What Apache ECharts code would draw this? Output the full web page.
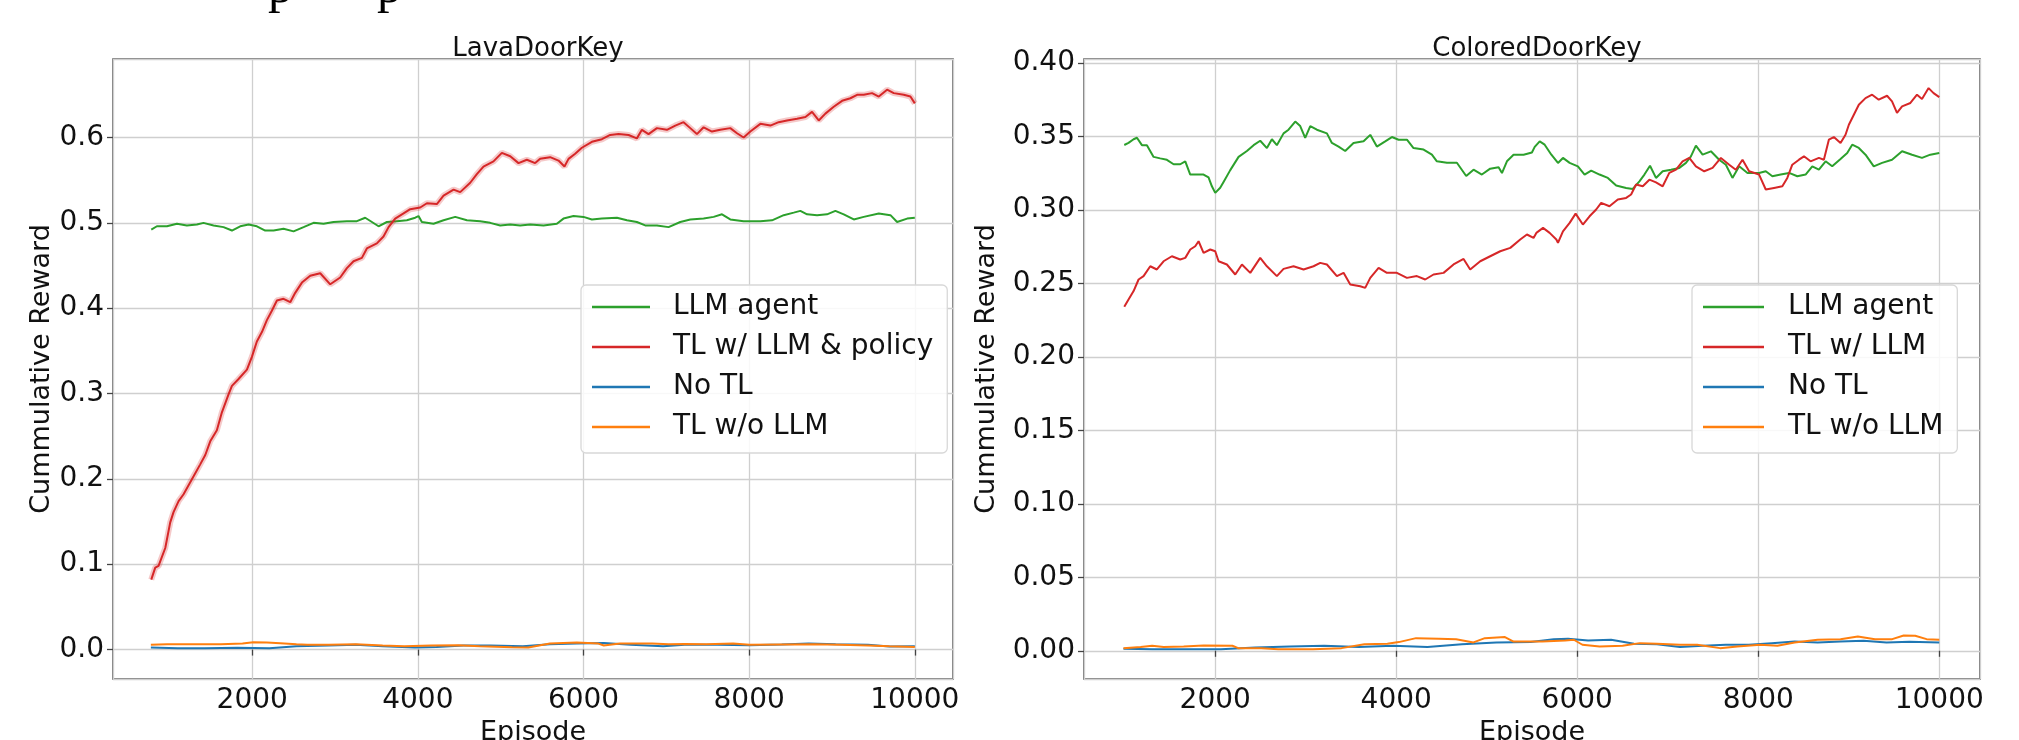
<!DOCTYPE html>
<html>
<head>
<meta charset="utf-8">
<script src="https://cdn.jsdelivr.net/npm/echarts@6/dist/echarts.min.js"></script>
<style>
  html, body { margin: 0; padding: 0; background: #fff; }
  #chart { width: 2019px; height: 740px; }
</style>
</head>
<body>
<div id="chart"></div>
<script>
// ---------- data ----------
const seriesNamesLava = ['LLM agent', 'TL w/ LLM & policy', 'No TL', 'TL w/o LLM'];
const seriesNamesColored = ['LLM agent', 'TL w/ LLM', 'No TL', 'TL w/o LLM'];
const titles = ['LavaDoorKey', 'ColoredDoorKey'];

// LavaDoorKey  [episode, reward]
const lavaLLM = [[781,0.492],[849,0.496],[970,0.496],[1091,0.499],[1211,0.497],[1332,0.498],[1412,0.500],[1533,0.497],[1654,0.495],[1755,0.491],[1855,0.496],[1956,0.498],[2056,0.496],[2157,0.491],[2258,0.491],[2378,0.493],[2499,0.490],[2620,0.495],[2740,0.500],[2861,0.499],[2982,0.501],[3143,0.502],[3264,0.502],[3364,0.506],[3445,0.501],[3525,0.496],[3626,0.501],[3746,0.502],[3867,0.503],[3968,0.506],[4008,0.508],[4048,0.501],[4189,0.499],[4310,0.503],[4451,0.507],[4592,0.503],[4752,0.502],[4873,0.500],[4994,0.497],[5115,0.498],[5235,0.497],[5356,0.498],[5517,0.497],[5678,0.499],[5758,0.505],[5879,0.508],[6000,0.507],[6101,0.504],[6222,0.505],[6403,0.506],[6524,0.503],[6644,0.501],[6745,0.497],[6886,0.497],[7027,0.495],[7168,0.501],[7289,0.504],[7450,0.505],[7571,0.507],[7672,0.510],[7772,0.504],[7933,0.502],[8135,0.502],[8276,0.503],[8417,0.509],[8538,0.512],[8618,0.514],[8699,0.510],[8820,0.509],[8940,0.510],[9041,0.514],[9142,0.510],[9263,0.504],[9383,0.507],[9565,0.511],[9706,0.509],[9786,0.501],[9907,0.505],[10000,0.506]];
const lavaTL = [[781,0.082],[829,0.096],[869,0.098],[950,0.119],[1010,0.149],[1050,0.161],[1111,0.174],[1171,0.182],[1292,0.203],[1372,0.217],[1433,0.228],[1493,0.244],[1573,0.257],[1634,0.278],[1714,0.299],[1755,0.309],[1835,0.317],[1936,0.328],[1996,0.343],[2056,0.361],[2117,0.372],[2177,0.386],[2237,0.397],[2298,0.409],[2378,0.411],[2459,0.407],[2519,0.418],[2600,0.430],[2700,0.438],[2821,0.441],[2942,0.428],[3062,0.436],[3143,0.447],[3223,0.455],[3324,0.459],[3384,0.470],[3505,0.476],[3585,0.484],[3646,0.495],[3726,0.505],[3827,0.511],[3908,0.516],[4028,0.518],[4109,0.523],[4229,0.522],[4310,0.532],[4431,0.539],[4511,0.536],[4632,0.547],[4712,0.557],[4792,0.566],[4913,0.572],[5014,0.582],[5115,0.578],[5215,0.570],[5316,0.574],[5416,0.570],[5476,0.575],[5597,0.577],[5698,0.573],[5770,0.566],[5819,0.575],[5899,0.581],[5980,0.588],[6101,0.595],[6222,0.598],[6322,0.603],[6423,0.604],[6544,0.603],[6644,0.599],[6705,0.609],[6785,0.604],[6886,0.611],[7007,0.609],[7108,0.614],[7208,0.618],[7289,0.611],[7369,0.604],[7450,0.612],[7551,0.607],[7651,0.609],[7772,0.611],[7853,0.605],[7933,0.600],[8014,0.607],[8135,0.616],[8256,0.614],[8356,0.618],[8457,0.620],[8578,0.622],[8679,0.624],[8759,0.630],[8840,0.620],[8920,0.628],[9021,0.636],[9122,0.643],[9222,0.646],[9303,0.650],[9383,0.650],[9484,0.652],[9565,0.648],[9665,0.656],[9746,0.652],[9867,0.650],[9947,0.648],[10000,0.640]];
const lavaNoTL = [[776,0.0023],[1102,0.0016],[1427,0.0016],[1818,0.0020],[2208,0.0016],[2534,0.0039],[2924,0.0047],[3250,0.0055],[3575,0.0039],[3966,0.0023],[4226,0.0031],[4552,0.0047],[4877,0.0047],[5268,0.0039],[5594,0.0062],[5919,0.0070],[6245,0.0078],[6570,0.0055],[6961,0.0039],[7221,0.0055],[7612,0.0055],[8002,0.0050],[8393,0.0059],[8718,0.0070],[9044,0.0062],[9434,0.0055],[9695,0.0035],[10000,0.0039]];
const lavaTLnoLLM = [[776,0.0055],[971,0.0062],[1297,0.0062],[1622,0.0062],[1883,0.0070],[2013,0.0086],[2176,0.0082],[2339,0.0074],[2534,0.0062],[2664,0.0055],[2924,0.0055],[3250,0.0062],[3575,0.0047],[3836,0.0039],[4161,0.0047],[4487,0.0050],[4747,0.0039],[5138,0.0027],[5333,0.0023],[5594,0.0070],[5919,0.0082],[6180,0.0070],[6245,0.0047],[6440,0.0070],[6830,0.0070],[7026,0.0062],[7221,0.0066],[7481,0.0062],[7807,0.0070],[8002,0.0055],[8393,0.0059],[8783,0.0062],[9109,0.0055],[9434,0.0047],[9695,0.0039],[10000,0.0031]];

// ColoredDoorKey  [episode, reward]
const colLLM = [[995,0.3441],[1042,0.3455],[1098,0.348],[1135,0.349],[1190,0.344],[1245,0.344],[1319,0.336],[1392,0.335],[1466,0.334],[1540,0.331],[1613,0.331],[1669,0.333],[1724,0.324],[1816,0.324],[1871,0.324],[1926,0.322],[1963,0.316],[2000,0.3115],[2055,0.315],[2092,0.319],[2166,0.327],[2258,0.336],[2350,0.340],[2424,0.344],[2497,0.347],[2571,0.342],[2626,0.348],[2681,0.344],[2755,0.352],[2810,0.3545],[2884,0.360],[2939,0.357],[2994,0.349],[3050,0.357],[3123,0.3545],[3234,0.352],[3289,0.3455],[3363,0.343],[3436,0.340],[3528,0.3455],[3639,0.3466],[3713,0.351],[3786,0.343],[3878,0.3466],[3952,0.3495],[4026,0.3477],[4118,0.3477],[4191,0.342],[4302,0.341],[4394,0.3375],[4449,0.333],[4560,0.332],[4670,0.332],[4773,0.323],[4854,0.3273],[4946,0.324],[5038,0.328],[5131,0.329],[5168,0.325],[5223,0.333],[5296,0.3375],[5407,0.3375],[5499,0.339],[5530,0.3428],[5585,0.3466],[5640,0.3443],[5714,0.3375],[5787,0.3319],[5842,0.3353],[5916,0.3319],[6007,0.3296],[6081,0.324],[6154,0.3267],[6246,0.324],[6338,0.3217],[6430,0.3165],[6540,0.3149],[6613,0.3142],[6687,0.3194],[6742,0.324],[6804,0.330],[6870,0.3217],[6944,0.3262],[7036,0.3273],[7128,0.3285],[7201,0.3319],[7256,0.3364],[7311,0.3437],[7385,0.3375],[7477,0.3398],[7568,0.3341],[7642,0.3307],[7715,0.3217],[7789,0.3296],[7881,0.3251],[8009,0.3251],[8083,0.3262],[8156,0.3228],[8248,0.324],[8340,0.3251],[8432,0.3228],[8523,0.324],[8597,0.3296],[8670,0.3273],[8744,0.333],[8817,0.3296],[8909,0.3346],[8983,0.3387],[9038,0.3443],[9111,0.3421],[9185,0.3375],[9276,0.3296],[9368,0.3319],[9478,0.3341],[9589,0.3398],[9699,0.3375],[9809,0.3353],[9901,0.3375],[10000,0.3387]];
const colTL = [[995,0.234],[1042,0.239],[1098,0.2447],[1153,0.2526],[1208,0.2549],[1282,0.2616],[1355,0.2594],[1429,0.265],[1521,0.2684],[1613,0.2662],[1669,0.2673],[1724,0.273],[1779,0.2752],[1816,0.2786],[1871,0.2707],[1945,0.273],[2000,0.2718],[2037,0.265],[2129,0.2628],[2221,0.256],[2295,0.2628],[2387,0.2571],[2497,0.2673],[2571,0.2616],[2681,0.2549],[2755,0.2598],[2865,0.2616],[2976,0.2594],[3086,0.2616],[3160,0.2639],[3234,0.2628],[3344,0.2549],[3418,0.2571],[3492,0.2492],[3602,0.248],[3657,0.2469],[3713,0.2537],[3805,0.2605],[3897,0.2571],[4007,0.2571],[4118,0.2537],[4228,0.2549],[4320,0.2526],[4412,0.256],[4523,0.2571],[4633,0.2628],[4744,0.2666],[4817,0.2594],[4928,0.265],[5038,0.2684],[5149,0.2718],[5260,0.2741],[5370,0.2798],[5444,0.2832],[5517,0.2809],[5548,0.2843],[5622,0.2877],[5695,0.2843],[5769,0.2798],[5787,0.2775],[5842,0.2854],[5916,0.2911],[5982,0.2974],[6062,0.290],[6136,0.2956],[6209,0.3002],[6264,0.3047],[6356,0.3024],[6448,0.307],[6540,0.3081],[6595,0.3104],[6650,0.3172],[6724,0.316],[6797,0.3205],[6870,0.3187],[6944,0.316],[7017,0.3251],[7091,0.3273],[7164,0.333],[7238,0.3353],[7311,0.3296],[7403,0.3262],[7495,0.3285],[7587,0.3353],[7679,0.3307],[7752,0.3273],[7826,0.3341],[7899,0.3262],[8009,0.324],[8083,0.3138],[8174,0.3149],[8266,0.316],[8321,0.3217],[8376,0.3307],[8450,0.3341],[8505,0.3364],[8578,0.333],[8670,0.3353],[8725,0.3341],[8780,0.3477],[8835,0.3495],[8909,0.3455],[8964,0.3511],[9001,0.3579],[9056,0.3647],[9111,0.3715],[9185,0.376],[9258,0.3783],[9331,0.3749],[9423,0.3776],[9478,0.3738],[9533,0.3659],[9589,0.3704],[9681,0.3727],[9754,0.3783],[9809,0.3754],[9882,0.3828],[9937,0.3794],[10000,0.3767]];
const colNoTL = [[986,0.0014],[1303,0.0011],[1683,0.0011],[2063,0.0011],[2444,0.0023],[2824,0.0029],[3204,0.0034],[3585,0.0025],[3965,0.0034],[4345,0.0025],[4726,0.0045],[5106,0.0057],[5486,0.0059],[5740,0.0079],[5898,0.0082],[6120,0.0070],[6374,0.0075],[6628,0.0048],[6881,0.0045],[7135,0.0025],[7388,0.0034],[7642,0.0041],[7895,0.0041],[8149,0.0052],[8402,0.0063],[8656,0.0057],[8909,0.0063],[9163,0.0068],[9417,0.0057],[9670,0.0061],[10000,0.0057]];
const colTLnoLLM = [[986,0.0018],[1176,0.0025],[1303,0.0034],[1430,0.0025],[1651,0.0029],[1873,0.0036],[2190,0.0034],[2254,0.0018],[2507,0.0018],[2697,0.0011],[3078,0.0011],[3395,0.0018],[3648,0.0045],[3902,0.0048],[4028,0.0059],[4219,0.0086],[4472,0.0082],[4662,0.0079],[4853,0.0057],[4979,0.0086],[5201,0.0093],[5296,0.0063],[5613,0.0063],[5867,0.0070],[5962,0.0075],[6057,0.0041],[6247,0.0029],[6501,0.0034],[6691,0.0052],[6881,0.0048],[7135,0.0041],[7325,0.0041],[7578,0.0018],[7768,0.0029],[8022,0.0041],[8212,0.0034],[8402,0.0057],[8656,0.0075],[8909,0.0079],[9100,0.0097],[9290,0.0079],[9480,0.0079],[9607,0.0104],[9734,0.0102],[9860,0.0079],[10000,0.0075]];

// ---------- styling ----------
const FONT = 'DejaVu Sans';
const GREEN = '#2ca02c', RED = '#d62728', BLUE = '#1f77b4', ORANGE = '#ff7f0e';
const TXT = '#111';

function xAxisDef(gridIndex, min, max) {
  return {
    type: 'value', gridIndex, min, max,
    splitNumber: 5, minInterval: 2000, maxInterval: 2000,
    name: 'Episode', nameLocation: 'middle', nameGap: 36,
    nameTextStyle: { fontFamily: FONT, fontSize: 27, color: TXT },
    axisLine: { show: false },
    axisTick: { show: true, length: 6, lineStyle: { color: '#444', width: 1.3 } },
    axisLabel: { fontFamily: FONT, fontSize: 28, color: TXT, margin: 8,
                 showMinLabel: false, showMaxLabel: false,
                 formatter: v => Number(v).toFixed(0) },
    splitLine: { show: true, lineStyle: { color: '#cfcfcf', width: 1.3 } }
  };
}
function yAxisDef(gridIndex, min, max, step, dec, gap) {
  return {
    type: 'value', gridIndex, min, max,
    minInterval: step, maxInterval: step,
    name: 'Cummulative Reward', nameLocation: 'middle', nameGap: gap,
    nameTextStyle: { fontFamily: FONT, fontSize: 27, color: TXT },
    axisLine: { show: false },
    axisTick: { show: true, length: 6, lineStyle: { color: '#444', width: 1.3 } },
    axisLabel: { fontFamily: FONT, fontSize: 28, color: TXT, margin: 9,
                 showMinLabel: false, showMaxLabel: false,
                 formatter: v => Number(v).toFixed(dec) },
    splitLine: { show: true, lineStyle: { color: '#cfcfcf', width: 1.3 } }
  };
}
function line(name, data, color, idx, z) {
  return {
    type: 'line', name, data, xAxisIndex: idx, yAxisIndex: idx,
    showSymbol: false, symbol: 'none', z: z || 2,
    lineStyle: { color, width: 2 }, itemStyle: { color },
    animation: false
  };
}
function legendDef(names, left, iconW, textPad) {
  return {
    data: names, orient: 'vertical', left, top: 285,
    icon: 'rect', itemWidth: iconW, itemHeight: 2.4, itemGap: 12,
    padding: [8, 14, 12, 11],
    backgroundColor: 'rgba(255,255,255,0.85)',
    borderColor: '#d8d8d8', borderWidth: 1.3, borderRadius: 5,
    textStyle: { fontFamily: FONT, fontSize: 28, color: TXT, padding: [0, 0, 0, textPad] },
    selectedMode: false
  };
}
function gridDef(left, width) {
  return { left, top: 59, width, height: 620, show: true,
           borderColor: '#555', borderWidth: 1.5, backgroundColor: 'transparent',
           containLabel: false, outerBoundsMode: 'none' };
}

const option = {
  backgroundColor: '#fff',
  animation: false,
  title: [
    { text: titles[0], left: 533, top: 31, textAlign: 'center',
      textStyle: { fontFamily: FONT, fontSize: 26, fontWeight: 'normal', color: TXT } },
    { text: titles[1], left: 1532, top: 31, textAlign: 'center',
      textStyle: { fontFamily: FONT, fontSize: 26, fontWeight: 'normal', color: TXT } }
  ],
  grid: [ gridDef(113, 840), gridDef(1084, 896) ],
  xAxis: [ xAxisDef(0, 319, 10461), xAxisDef(1, 550, 10450) ],
  yAxis: [ yAxisDef(0, -0.0345, 0.692, 0.1, 1, 58), yAxisDef(1, -0.0192, 0.4026, 0.05, 2, 84) ],
  legend: [
    legendDef(seriesNamesLava, 581, 58, 18),
    legendDef(seriesNamesColored, 1692, 61, 19)
  ],
  graphic: [
    { type: 'text', x: 268, y: -11, silent: true,
      style: { text: 'p', fontFamily: 'Liberation Serif', fontSize: 50, fill: '#000', verticalAlign: 'middle' } },
    { type: 'text', x: 377, y: -11, silent: true,
      style: { text: 'p', fontFamily: 'Liberation Serif', fontSize: 50, fill: '#000', verticalAlign: 'middle' } }
  ],
  series: [
    line(seriesNamesLava[0], lavaLLM, GREEN, 0),
    Object.assign(line('band-lava', lavaTL, RED, 0), { lineStyle: { color: RED, width: 6, opacity: 0.25 }, silent: true }),
    line(seriesNamesLava[1], lavaTL, RED, 0),
    line(seriesNamesLava[2], lavaNoTL, BLUE, 0),
    line(seriesNamesLava[3], lavaTLnoLLM, ORANGE, 0),
    line(seriesNamesColored[0], colLLM, GREEN, 1),
    line(seriesNamesColored[1], colTL, RED, 1),
    line(seriesNamesColored[2], colNoTL, BLUE, 1),
    line(seriesNamesColored[3], colTLnoLLM, ORANGE, 1)
  ]
};

const chart = echarts.init(document.getElementById('chart'), null, { renderer: 'canvas' });
chart.setOption(option);
</script>
</body>
</html>
